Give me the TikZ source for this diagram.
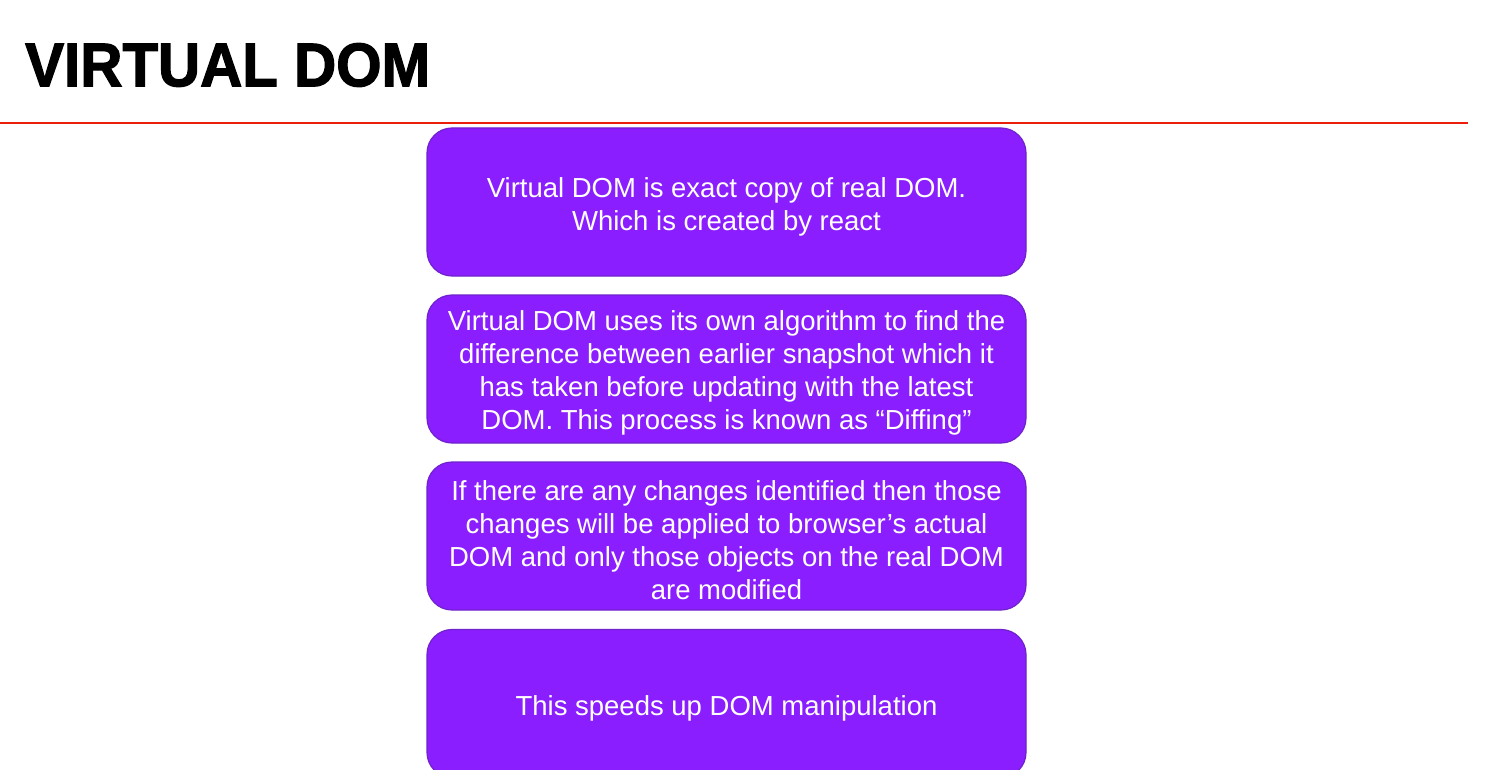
\documentclass[tikz,border=0pt]{standalone}
\usepackage{fontspec}
\setmainfont{Liberation Sans}
\newfontfamily\titlefont{Liberation Sans Bold}[FakeBold=2]
\definecolor{boxfill}{RGB}{138,30,255}
\definecolor{boxline}{RGB}{112,34,205}
\definecolor{rule}{RGB}{235,30,10}
\begin{document}
\begin{tikzpicture}[x=1pt,y=-1pt,
  infobox/.style={draw=boxline, line width=1.2pt, fill=boxfill, rounded corners=25pt,
    minimum width=599pt, minimum height=148pt, inner sep=0pt},
  boxtext/.style={inner sep=0pt, align=center, text=white,
    font=\fontsize{27.5}{32.8}\selectfont}]
\useasboundingbox[fill=white] (0,0) rectangle (1507,770);
\node[anchor=south west, inner sep=0pt] (title) at (25,87)
  {\resizebox{405pt}{43pt}{\titlefont VIRTUAL DOM}};
\draw[rule, line width=2pt] (0,123.5) coordinate (ruleL) -- (1468,123.5) coordinate (ruleR);
\node[infobox] (b1) at (726.5,202) {};
\node[infobox] (b2) at (726.5,369) {};
\node[infobox] (b3) at (726.5,536) {};
\node[infobox] (b4) at (726.5,703.5) {};
\node[boxtext] (t1) at ([yshift=-4.5pt]b1.center) {Virtual DOM is exact copy of real DOM.\\Which is created by react};
\node[boxtext] (t2) at ([yshift=-4pt]b2.center) {Virtual DOM uses its own algorithm to find the\\difference between earlier snapshot which it\\has taken before updating with the latest\\DOM. This process is known as “Diffing”};
\node[boxtext] (t3) at ([yshift=-4pt]b3.center) {If there are any changes identified then those\\changes will be applied to browser’s actual\\DOM and only those objects on the real DOM\\are modified};
\node[boxtext] (t4) at ([yshift=-5pt]b4.center) {This speeds up DOM manipulation};
\end{tikzpicture}
\end{document}
